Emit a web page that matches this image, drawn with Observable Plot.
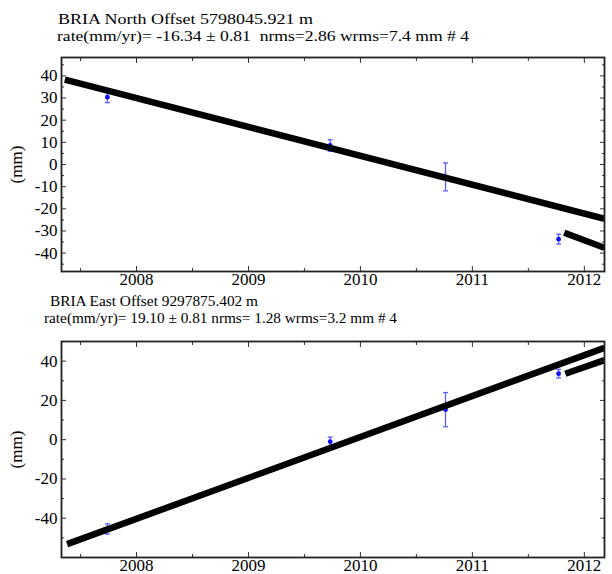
<!DOCTYPE html>
<html><head><meta charset="utf-8">
<script src="https://cdn.jsdelivr.net/npm/d3@7"></script>
<script src="https://cdn.jsdelivr.net/npm/@observablehq/plot@0.6"></script>
<style>
body{margin:0;background:#fff;}
#wrap{position:relative;width:612px;height:574px;overflow:hidden;background:#fff;font-family:'Liberation Serif','Times New Roman',Times,serif;}
#wrap svg{position:absolute;left:0;}
#wrap svg text{font-family:'Liberation Serif','Times New Roman',Times,serif;}
</style></head><body><div id="wrap"></div>
<script>
// ---- data ----
const epochs = [2007.74, 2009.73, 2010.76, 2011.77];
const northVals = [30.4, 8.6, -5.6, -33.7];
const northErr = [2.5, 2.6, 6.3, 2.2];
const eastVals = [-45.5, -1.0, 15.3, 33.6];
const eastErr = [2.6, 2.3, 8.7, 2.2];
const northFit1T = [2007.36, 2012.18], northFit1V = [38.3, -24.5];
const northFit2T = [2011.82, 2012.18], northFit2V = [-30.8, -37.6];
const eastFit1T = [2007.38, 2012.18], eastFit1V = [-53.2, 46.8];
const eastFit2T = [2011.83, 2012.18], eastFit2V = [33.6, 40.5];
const yearTicks = [2008, 2009, 2010, 2011, 2012];
const yearMinor = [2007.5, 2008.5, 2009.5, 2010.5, 2011.5];
const northTicks = [-40, -30, -20, -10, 0, 10, 20, 30, 40];
const northMinor = [-45, -35, -25, -15, -5, 5, 15, 25, 35, 45];
const eastTicks = [-40, -20, 0, 20, 40];
const eastMinor = [-50, -30, -10, 10, 30, 50];
const northTitle = "BRIA North Offset 5798045.921 m";
const northSub = "rate(mm/yr)= -16.34 \u00b1 0.81  nrms=2.86 wrms=7.4 mm # 4";
const eastTitle = "BRIA East Offset 9297875.402 m";
const eastSub = "rate(mm/yr)= 19.10 \u00b1 0.81 nrms= 1.28 wrms=3.2 mm # 4";
const yLabel = "(mm)";
const xDomain = [2007.33, 2012.18];

const FONT = "'Liberation Serif','Times New Roman',Times,serif";
const wrap = document.getElementById("wrap");
const fmt = d => String(d);

function panel({top, height, mt, mb, domainY, ticks, minor, vals, errs, f1t, f1v, f2t, f2v}) {
  const pts = epochs.map((t, i) => ({t, v: vals[i], e: errs[i]}));
  const fit1 = f1t.map((t, i) => ({t, v: f1v[i]}));
  const fit2 = f2t.map((t, i) => ({t, v: f2v[i]}));
  const capW = 0.022;
  const errColor = "#5c5cff";
  const tickStroke = "#333";
  const p = Plot.plot({
    width: 612, height, marginTop: mt, marginBottom: mb, marginLeft: 61, marginRight: 8,
    style: {fontFamily: FONT, fontSize: "17px", color: "black", background: "transparent"},
    x: {domain: xDomain, axis: null},
    y: {domain: domainY, axis: null},
    marks: [
      Plot.ruleX(pts, {x: "t", y1: d => d.v - d.e, y2: d => d.v + d.e, stroke: errColor, strokeWidth: 1.3}),
      Plot.link(pts, {x1: d => d.t - capW, x2: d => d.t + capW, y1: d => d.v + d.e, y2: d => d.v + d.e, stroke: errColor, strokeWidth: 1.3}),
      Plot.link(pts, {x1: d => d.t - capW, x2: d => d.t + capW, y1: d => d.v - d.e, y2: d => d.v - d.e, stroke: errColor, strokeWidth: 1.3}),
      Plot.dot(pts, {x: "t", y: "v", r: 2.4, fill: "#1010ff", stroke: null}),
      Plot.line(fit1, {x: "t", y: "v", stroke: "black", strokeWidth: 6.5, strokeLinecap: "butt", clip: true}),
      Plot.line(fit2, {x: "t", y: "v", stroke: "black", strokeWidth: 6.5, strokeLinecap: "butt", clip: true}),
      Plot.axisX({ticks: yearTicks, anchor: "bottom", tickSize: 0, tickPadding: 1, tickFormat: fmt, label: null, fontSize: 17}),
      Plot.axisX({ticks: yearTicks, anchor: "bottom", tickSize: -5, tickFormat: () => "", label: null, stroke: tickStroke}),
      Plot.axisX({ticks: yearMinor, anchor: "bottom", tickSize: -3, tickFormat: () => "", label: null, stroke: tickStroke}),
      Plot.axisX({ticks: yearTicks, anchor: "top", tickSize: -5, tickFormat: () => "", label: null, stroke: tickStroke}),
      Plot.axisX({ticks: yearMinor, anchor: "top", tickSize: -3, tickFormat: () => "", label: null, stroke: tickStroke}),
      Plot.axisY({ticks, anchor: "left", tickSize: 0, tickPadding: 4, tickFormat: fmt, label: yLabel, labelAnchor: "center", labelOffset: 52, labelArrow: "none", fontSize: 17}),
      Plot.axisY({ticks, anchor: "left", tickSize: -5, tickFormat: () => "", label: null, stroke: tickStroke}),
      Plot.axisY({ticks: minor, anchor: "left", tickSize: -3, tickFormat: () => "", label: null, stroke: tickStroke}),
      Plot.axisY({ticks, anchor: "right", tickSize: -5, tickFormat: () => "", label: null, stroke: tickStroke}),
      Plot.axisY({ticks: minor, anchor: "right", tickSize: -3, tickFormat: () => "", label: null, stroke: tickStroke}),
      Plot.frame({stroke: "#222", strokeWidth: 1.8})
    ]
  });
  p.style.top = top + "px";
  wrap.appendChild(p);
}

panel({top: 0, height: 300, mt: 57, mb: 29, domainY: [-48.3, 48.3], ticks: northTicks, minor: northMinor,
  vals: northVals, errs: northErr, f1t: northFit1T, f1v: northFit1V, f2t: northFit2T, f2v: northFit2V});
panel({top: 300, height: 274, mt: 41, mb: 17, domainY: [-60, 50], ticks: eastTicks, minor: eastMinor,
  vals: eastVals, errs: eastErr, f1t: eastFit1T, f1v: eastFit1V, f2t: eastFit2T, f2v: eastFit2V});

// titles overlay
const svg = d3.select(wrap).append("svg").attr("width", 612).attr("height", 574).style("top", "0px")
  .style("pointer-events", "none");
const lines = [
  {s: northTitle, x: 58, y: 24, w: 255},
  {s: northSub, x: 57, y: 40.5, w: 412},
  {s: eastTitle, x: 50, y: 306, w: 208},
  {s: eastSub, x: 44, y: 322.5, w: 353}
];
svg.selectAll("text").data(lines).join("text")
  .attr("x", d => d.x).attr("y", d => d.y)
  .attr("textLength", d => d.w).attr("lengthAdjust", "spacingAndGlyphs")
  .style("white-space", "pre")
  .style("font-family", FONT).attr("font-size", 15)
  .attr("fill", "black")
  .text(d => d.s);
</script></body></html>
